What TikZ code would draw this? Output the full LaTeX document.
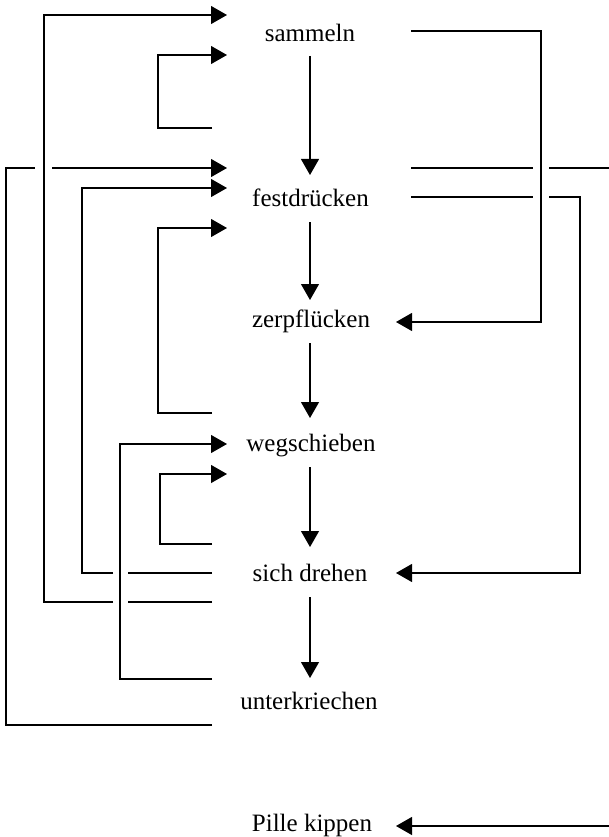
\documentclass[tikz,border=0pt]{standalone}
\usepackage{fontspec}
\setmainfont{Liberation Serif}
\usetikzlibrary{arrows.meta}
\begin{document}
\begin{tikzpicture}[x=1pt,y=-1pt,line width=1.1pt,
  lbl/.style={anchor=base,inner sep=0pt,font=\fontsize{25}{30}\selectfont},
  arr/.style={-{Triangle[length=16pt,width=18pt]}}]
\useasboundingbox (0,0) rectangle (609,837);
% labels
\node[lbl] (sam) at (310,42) {sammeln};
\node[lbl] (fest) at (310.5,206) {festdrücken};
\node[lbl] (zerp) at (311,327) {zerpflücken};
\node[lbl] (weg) at (311,451) {wegschieben};
\node[lbl] (sich) at (310,581) {sich drehen};
\node[lbl] (unter) at (309,709) {unterkriechen};
\node[lbl] (pille) at (312,831) {Pille kippen};
% main vertical arrows
\coordinate (v1a) at (310,56);  \coordinate (v1b) at (310,175);
\coordinate (v2a) at (310,222); \coordinate (v2b) at (310,300);
\coordinate (v3a) at (310,343); \coordinate (v3b) at (310,418);
\coordinate (v4a) at (310,467); \coordinate (v4b) at (310,547);
\coordinate (v5a) at (310,597); \coordinate (v5b) at (310,678);
\draw[arr] (v1a) -- (v1b);
\draw[arr] (v2a) -- (v2b);
\draw[arr] (v3a) -- (v3b);
\draw[arr] (v4a) -- (v4b);
\draw[arr] (v5a) -- (v5b);
% left-side input tips
\coordinate (in1) at (227,15);
\coordinate (in2) at (227,55);
\coordinate (in3) at (227,168);
\coordinate (in4) at (227,188);
\coordinate (in5) at (227,228);
\coordinate (in6) at (227,444);
\coordinate (in7) at (227,474);
% left-side output ends
\coordinate (o1) at (212,128);
\coordinate (o2) at (212,413);
\coordinate (o3) at (212,544);
\coordinate (o4) at (212,573);
\coordinate (o5) at (212,602);
\coordinate (o6) at (212,679);
\coordinate (o7) at (212,725);
% A: unterkriechen -> y=168 (gap at x=44)
\draw (o7) -- (6,725) -- (6,168) -- (35,168);
\draw[arr] (52,168) -- (in3);
% B: y=602 -> sammeln (gap at x=120)
\draw (o5) -- (128,602);
\draw[arr] (113,602) -- (44,602) -- (44,15) -- (in1);
% C: y=573 -> festdruecken (gap at x=120)
\draw (o4) -- (128,573);
\draw[arr] (113,573) -- (82,573) -- (82,188) -- (in4);
% D: sammeln self loop
\draw[arr] (o1) -- (158,128) -- (158,55) -- (in2);
% E
\draw[arr] (o2) -- (158,413) -- (158,228) -- (in5);
% F
\draw[arr] (o6) -- (120,679) -- (120,444) -- (in6);
% G
\draw[arr] (o3) -- (160,544) -- (160,474) -- (in7);
% right side
\coordinate (r1) at (411,31);
\coordinate (r2) at (411,168);
\coordinate (r3) at (411,197);
\coordinate (t1) at (396,322);
\coordinate (t2) at (396,573);
\coordinate (t3) at (396,826);
\draw[arr] (r1) -- (541,31) -- (541,322) -- (t1);
\draw (r2) -- (533,168);
\draw (549,168) -- (609,168);
\draw (r3) -- (533,197);
\draw[arr] (549,197) -- (580,197) -- (580,573) -- (t2);
\draw[arr] (609,826) -- (t3);
\end{tikzpicture}
\end{document}
